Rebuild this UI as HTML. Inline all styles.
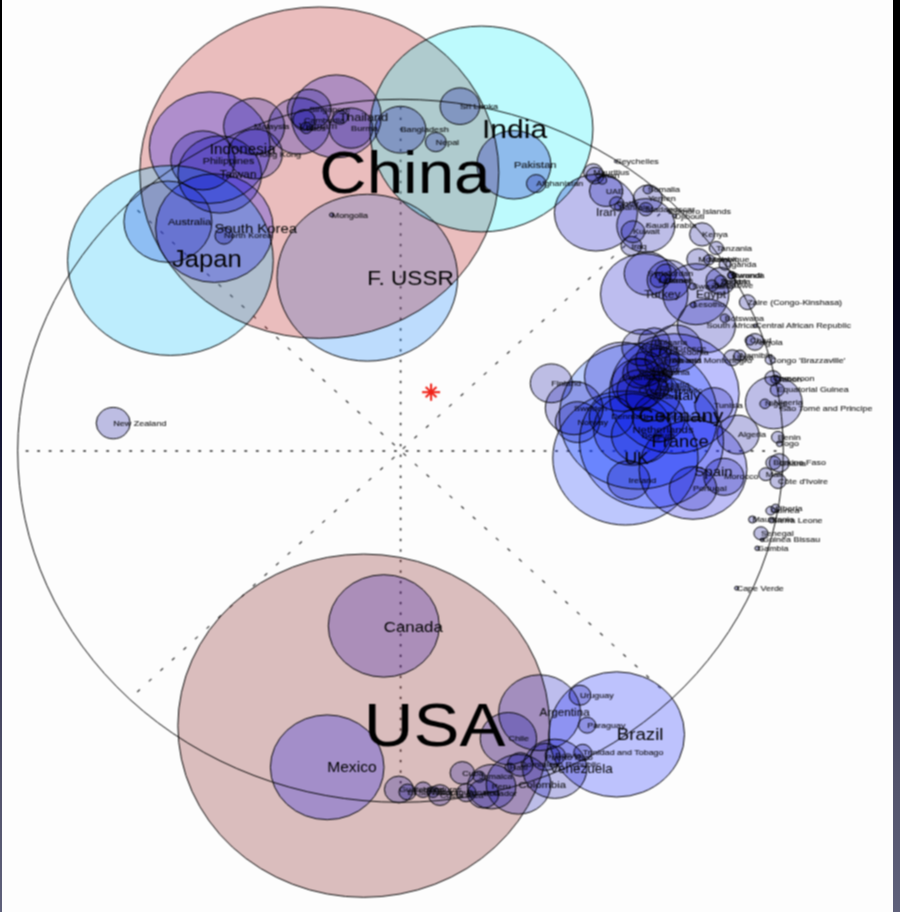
<!DOCTYPE html>
<html lang="en"><head><meta charset="utf-8"><title>World GDP bubble map</title>
<style>
html,body{margin:0;padding:0;background:#fff;}
body{width:900px;height:912px;overflow:hidden;position:relative;font-family:"Liberation Sans",sans-serif;}
#bg{position:absolute;left:0;top:0;width:900px;height:912px;background:linear-gradient(to bottom,#000 0%,#000 16%,#05051b 33%,#141634 48.5%,#343452 66%,#53546c 86%,#5f617b 100%);}
#paper{position:absolute;left:2px;top:0;width:891px;height:912px;background:#fdfdfd;overflow:hidden;}
svg{position:absolute;left:-2px;top:0;}
.f{fill-opacity:.25;stroke:none}
.c{stroke:#000;stroke-width:1.0;fill:none;stroke-opacity:.95}
.d{stroke:#333;stroke-width:1.6;stroke-linecap:butt}
.e{stroke:#3a3a3a;stroke-width:1.25;stroke-linecap:butt}
text{font-family:"Liberation Sans",sans-serif;fill:#000}
.s{stroke:#000;stroke-width:.15;stroke-opacity:.7;fill-opacity:.9}
</style></head><body>
<div id="bg"></div><div id="paper">
<svg width="900" height="912" viewBox="0 0 900 912">
<defs><filter id="soft" x="-2%" y="-2%" width="104%" height="104%" color-interpolation-filters="sRGB"><feConvolveMatrix order="3" kernelMatrix="1 2 1 2 4 2 1 2 1" divisor="16" edgeMode="duplicate" preserveAlpha="false"/></filter></defs>
<g filter="url(#soft)">
<g class="d"><line x1="25.7" y1="451.0" x2="28.5" y2="451.0"/><line x1="37.2" y1="451.0" x2="40.0" y2="451.0"/><line x1="48.7" y1="451.0" x2="51.5" y2="451.0"/><line x1="60.2" y1="451.0" x2="63.0" y2="451.0"/><line x1="71.7" y1="451.0" x2="74.5" y2="451.0"/><line x1="83.2" y1="451.0" x2="86.0" y2="451.0"/><line x1="94.7" y1="451.0" x2="97.5" y2="451.0"/><line x1="106.3" y1="451.0" x2="109.1" y2="451.0"/><line x1="117.8" y1="451.0" x2="120.6" y2="451.0"/><line x1="129.3" y1="451.0" x2="132.1" y2="451.0"/><line x1="140.8" y1="451.0" x2="143.6" y2="451.0"/><line x1="152.3" y1="451.0" x2="155.1" y2="451.0"/><line x1="163.8" y1="451.0" x2="166.6" y2="451.0"/><line x1="175.3" y1="451.0" x2="178.1" y2="451.0"/><line x1="186.8" y1="451.0" x2="189.6" y2="451.0"/><line x1="198.3" y1="451.0" x2="201.1" y2="451.0"/><line x1="209.8" y1="451.0" x2="212.6" y2="451.0"/><line x1="221.3" y1="451.0" x2="224.1" y2="451.0"/><line x1="232.8" y1="451.0" x2="235.6" y2="451.0"/><line x1="244.4" y1="451.0" x2="247.2" y2="451.0"/><line x1="255.9" y1="451.0" x2="258.7" y2="451.0"/><line x1="267.4" y1="451.0" x2="270.2" y2="451.0"/><line x1="278.9" y1="451.0" x2="281.7" y2="451.0"/><line x1="290.4" y1="451.0" x2="293.2" y2="451.0"/><line x1="301.9" y1="451.0" x2="304.7" y2="451.0"/><line x1="313.4" y1="451.0" x2="316.2" y2="451.0"/><line x1="324.9" y1="451.0" x2="327.7" y2="451.0"/><line x1="336.4" y1="451.0" x2="339.2" y2="451.0"/><line x1="347.9" y1="451.0" x2="350.7" y2="451.0"/><line x1="359.4" y1="451.0" x2="362.2" y2="451.0"/><line x1="370.9" y1="451.0" x2="373.7" y2="451.0"/><line x1="382.4" y1="451.0" x2="385.2" y2="451.0"/><line x1="394.0" y1="451.0" x2="396.8" y2="451.0"/><line x1="405.5" y1="451.0" x2="408.3" y2="451.0"/><line x1="417.0" y1="451.0" x2="419.8" y2="451.0"/><line x1="428.5" y1="451.0" x2="431.3" y2="451.0"/><line x1="440.0" y1="451.0" x2="442.8" y2="451.0"/><line x1="451.5" y1="451.0" x2="454.3" y2="451.0"/><line x1="463.0" y1="451.0" x2="465.8" y2="451.0"/><line x1="474.5" y1="451.0" x2="477.3" y2="451.0"/><line x1="486.0" y1="451.0" x2="488.8" y2="451.0"/><line x1="497.5" y1="451.0" x2="500.3" y2="451.0"/><line x1="509.0" y1="451.0" x2="511.8" y2="451.0"/><line x1="520.5" y1="451.0" x2="523.3" y2="451.0"/><line x1="532.1" y1="451.0" x2="534.9" y2="451.0"/><line x1="543.6" y1="451.0" x2="546.4" y2="451.0"/><line x1="555.1" y1="451.0" x2="557.9" y2="451.0"/><line x1="566.6" y1="451.0" x2="569.4" y2="451.0"/><line x1="578.1" y1="451.0" x2="580.9" y2="451.0"/><line x1="589.6" y1="451.0" x2="592.4" y2="451.0"/><line x1="601.1" y1="451.0" x2="603.9" y2="451.0"/><line x1="612.6" y1="451.0" x2="615.4" y2="451.0"/><line x1="624.1" y1="451.0" x2="626.9" y2="451.0"/><line x1="635.6" y1="451.0" x2="638.4" y2="451.0"/><line x1="647.1" y1="451.0" x2="649.9" y2="451.0"/><line x1="658.6" y1="451.0" x2="661.4" y2="451.0"/><line x1="670.1" y1="451.0" x2="672.9" y2="451.0"/><line x1="681.7" y1="451.0" x2="684.5" y2="451.0"/><line x1="693.2" y1="451.0" x2="696.0" y2="451.0"/><line x1="704.7" y1="451.0" x2="707.5" y2="451.0"/><line x1="716.2" y1="451.0" x2="719.0" y2="451.0"/><line x1="727.7" y1="451.0" x2="730.5" y2="451.0"/><line x1="739.2" y1="451.0" x2="742.0" y2="451.0"/><line x1="750.7" y1="451.0" x2="753.5" y2="451.0"/><line x1="762.2" y1="451.0" x2="765.0" y2="451.0"/><line x1="773.7" y1="451.0" x2="776.5" y2="451.0"/><line x1="400.6" y1="107.0" x2="400.6" y2="109.4"/><line x1="400.6" y1="117.6" x2="400.6" y2="120.0"/><line x1="400.6" y1="128.1" x2="400.6" y2="130.5"/><line x1="400.6" y1="138.6" x2="400.6" y2="141.0"/><line x1="400.6" y1="149.2" x2="400.6" y2="151.6"/><line x1="400.6" y1="159.7" x2="400.6" y2="162.1"/><line x1="400.6" y1="170.2" x2="400.6" y2="172.6"/><line x1="400.6" y1="180.8" x2="400.6" y2="183.2"/><line x1="400.6" y1="191.3" x2="400.6" y2="193.7"/><line x1="400.6" y1="201.8" x2="400.6" y2="204.2"/><line x1="400.6" y1="212.3" x2="400.6" y2="214.7"/><line x1="400.6" y1="222.9" x2="400.6" y2="225.3"/><line x1="400.6" y1="233.4" x2="400.6" y2="235.8"/><line x1="400.6" y1="243.9" x2="400.6" y2="246.3"/><line x1="400.6" y1="254.5" x2="400.6" y2="256.9"/><line x1="400.6" y1="265.0" x2="400.6" y2="267.4"/><line x1="400.6" y1="275.5" x2="400.6" y2="277.9"/><line x1="400.6" y1="286.1" x2="400.6" y2="288.4"/><line x1="400.6" y1="296.6" x2="400.6" y2="299.0"/><line x1="400.6" y1="307.1" x2="400.6" y2="309.5"/><line x1="400.6" y1="317.6" x2="400.6" y2="320.0"/><line x1="400.6" y1="328.2" x2="400.6" y2="330.6"/><line x1="400.6" y1="338.7" x2="400.6" y2="341.1"/><line x1="400.6" y1="349.2" x2="400.6" y2="351.6"/><line x1="400.6" y1="359.8" x2="400.6" y2="362.2"/><line x1="400.6" y1="370.3" x2="400.6" y2="372.7"/><line x1="400.6" y1="380.8" x2="400.6" y2="383.2"/><line x1="400.6" y1="391.3" x2="400.6" y2="393.7"/><line x1="400.6" y1="401.9" x2="400.6" y2="404.3"/><line x1="400.6" y1="412.4" x2="400.6" y2="414.8"/><line x1="400.6" y1="422.9" x2="400.6" y2="425.3"/><line x1="400.6" y1="433.5" x2="400.6" y2="435.9"/><line x1="400.6" y1="444.0" x2="400.6" y2="446.4"/><line x1="400.6" y1="454.5" x2="400.6" y2="456.9"/><line x1="400.6" y1="465.1" x2="400.6" y2="467.5"/><line x1="400.6" y1="475.6" x2="400.6" y2="478.0"/><line x1="400.6" y1="486.1" x2="400.6" y2="488.5"/><line x1="400.6" y1="496.6" x2="400.6" y2="499.0"/><line x1="400.6" y1="507.2" x2="400.6" y2="509.6"/><line x1="400.6" y1="517.7" x2="400.6" y2="520.1"/><line x1="400.6" y1="528.2" x2="400.6" y2="530.6"/><line x1="400.6" y1="538.8" x2="400.6" y2="541.2"/><line x1="400.6" y1="549.3" x2="400.6" y2="551.7"/><line x1="400.6" y1="559.8" x2="400.6" y2="562.2"/><line x1="400.6" y1="570.4" x2="400.6" y2="572.8"/><line x1="400.6" y1="580.9" x2="400.6" y2="583.3"/><line x1="400.6" y1="591.4" x2="400.6" y2="593.8"/><line x1="400.6" y1="601.9" x2="400.6" y2="604.3"/><line x1="400.6" y1="612.5" x2="400.6" y2="614.9"/><line x1="400.6" y1="623.0" x2="400.6" y2="625.4"/><line x1="400.6" y1="633.5" x2="400.6" y2="635.9"/><line x1="400.6" y1="644.1" x2="400.6" y2="646.5"/><line x1="400.6" y1="654.6" x2="400.6" y2="657.0"/><line x1="400.6" y1="665.1" x2="400.6" y2="667.5"/><line x1="400.6" y1="675.7" x2="400.6" y2="678.1"/><line x1="400.6" y1="686.2" x2="400.6" y2="688.6"/><line x1="400.6" y1="696.7" x2="400.6" y2="699.1"/><line x1="400.6" y1="707.2" x2="400.6" y2="709.6"/><line x1="400.6" y1="717.8" x2="400.6" y2="720.2"/><line x1="400.6" y1="728.3" x2="400.6" y2="730.7"/><line x1="400.6" y1="738.8" x2="400.6" y2="741.2"/><line x1="400.6" y1="749.4" x2="400.6" y2="751.8"/><line x1="400.6" y1="759.9" x2="400.6" y2="762.3"/><line x1="400.6" y1="770.4" x2="400.6" y2="772.8"/><line x1="400.6" y1="781.0" x2="400.6" y2="783.4"/></g>
<g class="e"><line x1="402.8" y1="448.9" x2="405.6" y2="446.3"/><line x1="394.8" y1="445.3" x2="392.0" y2="442.7"/><line x1="403.3" y1="453.3" x2="406.1" y2="455.9"/><line x1="394.5" y1="456.9" x2="391.7" y2="459.5"/><line x1="414.4" y1="438.3" x2="417.1" y2="435.8"/><line x1="383.2" y1="434.7" x2="380.5" y2="432.2"/><line x1="414.9" y1="463.9" x2="417.6" y2="466.4"/><line x1="382.9" y1="467.5" x2="380.2" y2="470.0"/><line x1="426.0" y1="427.7" x2="428.7" y2="425.2"/><line x1="371.6" y1="424.1" x2="368.9" y2="421.6"/><line x1="426.5" y1="474.5" x2="429.2" y2="477.0"/><line x1="371.3" y1="478.1" x2="368.6" y2="480.6"/><line x1="437.5" y1="417.1" x2="440.3" y2="414.6"/><line x1="360.1" y1="413.5" x2="357.3" y2="411.0"/><line x1="438.0" y1="485.1" x2="440.8" y2="487.6"/><line x1="359.8" y1="488.7" x2="357.0" y2="491.2"/><line x1="449.1" y1="406.6" x2="451.8" y2="404.1"/><line x1="348.5" y1="403.0" x2="345.8" y2="400.5"/><line x1="449.6" y1="495.6" x2="452.3" y2="498.1"/><line x1="348.2" y1="499.2" x2="345.5" y2="501.7"/><line x1="460.7" y1="396.0" x2="463.4" y2="393.5"/><line x1="336.9" y1="392.4" x2="334.2" y2="389.9"/><line x1="461.2" y1="506.2" x2="463.9" y2="508.7"/><line x1="336.6" y1="509.8" x2="333.9" y2="512.3"/><line x1="472.3" y1="385.4" x2="475.0" y2="382.9"/><line x1="325.3" y1="381.8" x2="322.6" y2="379.3"/><line x1="472.8" y1="516.8" x2="475.5" y2="519.3"/><line x1="325.0" y1="520.4" x2="322.3" y2="522.9"/><line x1="483.8" y1="374.9" x2="486.6" y2="372.4"/><line x1="313.8" y1="371.3" x2="311.0" y2="368.8"/><line x1="484.3" y1="527.3" x2="487.1" y2="529.8"/><line x1="313.5" y1="530.9" x2="310.7" y2="533.4"/><line x1="495.4" y1="364.3" x2="498.1" y2="361.8"/><line x1="302.2" y1="360.7" x2="299.5" y2="358.2"/><line x1="495.9" y1="537.9" x2="498.6" y2="540.4"/><line x1="301.9" y1="541.5" x2="299.2" y2="544.0"/><line x1="507.0" y1="353.7" x2="509.7" y2="351.2"/><line x1="290.6" y1="350.1" x2="287.9" y2="347.6"/><line x1="507.5" y1="548.5" x2="510.2" y2="551.0"/><line x1="290.3" y1="552.1" x2="287.6" y2="554.6"/><line x1="518.5" y1="343.2" x2="521.3" y2="340.6"/><line x1="279.1" y1="339.6" x2="276.3" y2="337.0"/><line x1="519.0" y1="559.0" x2="521.8" y2="561.6"/><line x1="278.8" y1="562.6" x2="276.0" y2="565.2"/><line x1="530.1" y1="332.6" x2="532.8" y2="330.1"/><line x1="267.5" y1="329.0" x2="264.8" y2="326.5"/><line x1="530.6" y1="569.6" x2="533.3" y2="572.1"/><line x1="267.2" y1="573.2" x2="264.5" y2="575.7"/><line x1="541.7" y1="322.0" x2="544.4" y2="319.5"/><line x1="255.9" y1="318.4" x2="253.2" y2="315.9"/><line x1="542.2" y1="580.2" x2="544.9" y2="582.7"/><line x1="255.6" y1="583.8" x2="252.9" y2="586.3"/><line x1="553.2" y1="311.4" x2="556.0" y2="308.9"/><line x1="244.4" y1="307.8" x2="241.6" y2="305.3"/><line x1="553.7" y1="590.8" x2="556.5" y2="593.3"/><line x1="244.1" y1="594.4" x2="241.3" y2="596.9"/><line x1="564.8" y1="300.9" x2="567.5" y2="298.4"/><line x1="232.8" y1="297.3" x2="230.1" y2="294.8"/><line x1="565.3" y1="601.3" x2="568.0" y2="603.8"/><line x1="232.5" y1="604.9" x2="229.8" y2="607.4"/><line x1="576.4" y1="290.3" x2="579.1" y2="287.8"/><line x1="221.2" y1="286.7" x2="218.5" y2="284.2"/><line x1="576.9" y1="611.9" x2="579.6" y2="614.4"/><line x1="220.9" y1="615.5" x2="218.2" y2="618.0"/><line x1="588.0" y1="279.7" x2="590.7" y2="277.2"/><line x1="209.6" y1="276.1" x2="206.9" y2="273.6"/><line x1="588.5" y1="622.5" x2="591.2" y2="625.0"/><line x1="209.3" y1="626.1" x2="206.6" y2="628.6"/><line x1="599.5" y1="269.2" x2="602.3" y2="266.7"/><line x1="198.1" y1="265.6" x2="195.3" y2="263.1"/><line x1="600.0" y1="633.0" x2="602.8" y2="635.5"/><line x1="197.8" y1="636.6" x2="195.0" y2="639.1"/><line x1="611.1" y1="258.6" x2="613.8" y2="256.1"/><line x1="186.5" y1="255.0" x2="183.8" y2="252.5"/><line x1="611.6" y1="643.6" x2="614.3" y2="646.1"/><line x1="186.2" y1="647.2" x2="183.5" y2="649.7"/><line x1="622.7" y1="248.0" x2="625.4" y2="245.5"/><line x1="174.9" y1="244.4" x2="172.2" y2="241.9"/><line x1="623.2" y1="654.2" x2="625.9" y2="656.7"/><line x1="174.6" y1="657.8" x2="171.9" y2="660.3"/><line x1="634.2" y1="237.5" x2="637.0" y2="234.9"/><line x1="163.4" y1="233.9" x2="160.6" y2="231.3"/><line x1="634.7" y1="664.7" x2="637.5" y2="667.3"/><line x1="163.1" y1="668.3" x2="160.3" y2="670.9"/><line x1="645.8" y1="226.9" x2="648.5" y2="224.4"/><line x1="151.8" y1="223.3" x2="149.1" y2="220.8"/><line x1="646.3" y1="675.3" x2="649.0" y2="677.8"/><line x1="151.5" y1="678.9" x2="148.8" y2="681.4"/><line x1="657.4" y1="216.3" x2="660.1" y2="213.8"/><line x1="140.2" y1="212.7" x2="137.5" y2="210.2"/><line x1="657.9" y1="685.9" x2="660.6" y2="688.4"/><line x1="139.9" y1="689.5" x2="137.2" y2="692.0"/></g>
<g class="f">
<ellipse cx="653.0" cy="395.9" rx="27.0" ry="24.9" fill="rgb(0,0,164)"/>
<ellipse cx="641.7" cy="435.3" rx="30.2" ry="27.9" fill="rgb(0,0,169)"/>
<ellipse cx="611.3" cy="416.7" rx="22.0" ry="20.3" fill="rgb(0,0,157)"/>
<ellipse cx="551.3" cy="383.3" rx="21.0" ry="19.4" fill="rgb(0,0,155)"/>
<ellipse cx="651.5" cy="441.6" rx="72.0" ry="66.5" fill="rgb(0,36,255)"/>
<ellipse cx="638.4" cy="416.2" rx="79.0" ry="72.9" fill="rgb(0,66,255)"/>
<ellipse cx="674.2" cy="393.6" rx="64.9" ry="59.9" fill="rgb(0,8,255)"/>
<ellipse cx="632.4" cy="429.4" rx="38.8" ry="35.8" fill="rgb(0,0,186)"/>
<ellipse cx="577.5" cy="422.1" rx="22.1" ry="20.4" fill="rgb(0,0,157)"/>
<ellipse cx="574.1" cy="408.1" rx="28.8" ry="26.6" fill="rgb(0,0,167)"/>
<ellipse cx="659.0" cy="417.4" rx="26.3" ry="24.3" fill="rgb(0,0,163)"/>
<ellipse cx="625.4" cy="458.0" rx="72.6" ry="67.0" fill="rgb(0,39,255)"/>
<ellipse cx="628.6" cy="480.2" rx="21.1" ry="19.5" fill="rgb(0,0,156)"/>
<ellipse cx="676.3" cy="348.5" rx="25.4" ry="23.4" fill="rgb(0,0,161)"/>
<ellipse cx="693.0" cy="488.5" rx="23.6" ry="21.8" fill="rgb(0,0,159)"/>
<ellipse cx="693.0" cy="469.6" rx="53.9" ry="49.7" fill="rgb(0,0,226)"/>
<ellipse cx="167.9" cy="221.7" rx="44.0" ry="40.6" fill="rgb(0,0,198)"/>
<ellipse cx="113.2" cy="423.1" rx="17.0" ry="15.7" fill="rgb(0,0,151)"/>
<ellipse cx="383.8" cy="625.9" rx="55.5" ry="51.2" fill="rgb(0,0,231)"/>
<ellipse cx="363.7" cy="725.7" rx="185.8" ry="171.6" fill="rgb(117,0,0)"/>
<ellipse cx="672.0" cy="360.1" rx="7.3" ry="6.7" fill="rgb(0,0,144)"/>
<ellipse cx="654.2" cy="342.2" rx="15.6" ry="14.4" fill="rgb(0,0,150)"/>
<ellipse cx="639.2" cy="383.8" rx="27.4" ry="25.3" fill="rgb(0,0,164)"/>
<ellipse cx="645.8" cy="368.8" rx="18.6" ry="17.2" fill="rgb(0,0,153)"/>
<ellipse cx="622.0" cy="376.8" rx="37.5" ry="34.6" fill="rgb(0,0,183)"/>
<ellipse cx="641.5" cy="347.6" rx="19.6" ry="18.1" fill="rgb(0,0,154)"/>
<ellipse cx="657.6" cy="360.2" rx="21.8" ry="20.1" fill="rgb(0,0,156)"/>
<ellipse cx="662.4" cy="372.7" rx="9.7" ry="9.0" fill="rgb(0,0,146)"/>
<ellipse cx="660.6" cy="384.6" rx="11.9" ry="11.0" fill="rgb(0,0,147)"/>
<ellipse cx="665.0" cy="352.7" rx="5.6" ry="5.2" fill="rgb(0,0,144)"/>
<ellipse cx="657.0" cy="388.5" rx="11.4" ry="10.6" fill="rgb(0,0,147)"/>
<ellipse cx="657.6" cy="360.2" rx="12.8" ry="11.8" fill="rgb(0,0,147)"/>
<ellipse cx="638.8" cy="390.1" rx="21.8" ry="20.2" fill="rgb(0,0,156)"/>
<ellipse cx="638.8" cy="373.3" rx="16.0" ry="14.7" fill="rgb(0,0,150)"/>
<ellipse cx="367.3" cy="277.7" rx="90.3" ry="83.4" fill="rgb(0,122,255)"/>
<ellipse cx="539.6" cy="712.7" rx="41.0" ry="37.9" fill="rgb(0,0,191)"/>
<ellipse cx="616.7" cy="734.4" rx="67.8" ry="62.6" fill="rgb(0,19,255)"/>
<ellipse cx="508.4" cy="738.6" rx="28.2" ry="26.1" fill="rgb(0,0,166)"/>
<ellipse cx="518.5" cy="784.3" rx="32.3" ry="29.8" fill="rgb(0,0,173)"/>
<ellipse cx="327.2" cy="767.3" rx="56.8" ry="52.4" fill="rgb(0,0,235)"/>
<ellipse cx="491.7" cy="786.7" rx="24.1" ry="22.2" fill="rgb(0,0,159)"/>
<ellipse cx="580.0" cy="695.2" rx="10.8" ry="10.0" fill="rgb(0,0,146)"/>
<ellipse cx="554.7" cy="768.8" rx="32.1" ry="29.6" fill="rgb(0,0,172)"/>
<ellipse cx="555.2" cy="755.4" rx="10.1" ry="9.3" fill="rgb(0,0,146)"/>
<ellipse cx="439.9" cy="795.1" rx="11.3" ry="10.4" fill="rgb(0,0,146)"/>
<ellipse cx="462.3" cy="772.9" rx="12.2" ry="11.3" fill="rgb(0,0,147)"/>
<ellipse cx="520.3" cy="764.4" rx="12.8" ry="11.8" fill="rgb(0,0,147)"/>
<ellipse cx="483.3" cy="793.8" rx="15.5" ry="14.3" fill="rgb(0,0,150)"/>
<ellipse cx="407.5" cy="792.0" rx="8.5" ry="7.9" fill="rgb(0,0,145)"/>
<ellipse cx="398.9" cy="789.5" rx="14.5" ry="13.4" fill="rgb(0,0,149)"/>
<ellipse cx="509.8" cy="767.6" rx="4.9" ry="4.5" fill="rgb(0,0,143)"/>
<ellipse cx="423.1" cy="789.7" rx="8.3" ry="7.7" fill="rgb(0,0,145)"/>
<ellipse cx="479.2" cy="776.7" rx="6.0" ry="5.6" fill="rgb(0,0,144)"/>
<ellipse cx="433.0" cy="792.0" rx="5.9" ry="5.4" fill="rgb(0,0,144)"/>
<ellipse cx="466.2" cy="792.7" rx="9.7" ry="9.0" fill="rgb(0,0,146)"/>
<ellipse cx="587.2" cy="725.2" rx="8.6" ry="7.9" fill="rgb(0,0,145)"/>
<ellipse cx="545.5" cy="756.9" rx="14.8" ry="13.6" fill="rgb(0,0,149)"/>
<ellipse cx="582.7" cy="752.6" rx="8.9" ry="8.3" fill="rgb(0,0,145)"/>
<ellipse cx="319.3" cy="172.7" rx="179.5" ry="165.7" fill="rgb(181,0,0)"/>
<ellipse cx="481.4" cy="129.0" rx="111.5" ry="102.9" fill="rgb(0,244,255)"/>
<ellipse cx="209.8" cy="147.6" rx="60.5" ry="55.8" fill="rgb(0,0,248)"/>
<ellipse cx="170.4" cy="260.5" rx="102.8" ry="94.9" fill="rgb(0,191,255)"/>
<ellipse cx="202.8" cy="160.4" rx="32.0" ry="29.5" fill="rgb(0,0,172)"/>
<ellipse cx="214.4" cy="228.1" rx="58.8" ry="54.3" fill="rgb(0,0,242)"/>
<ellipse cx="336.3" cy="116.4" rx="45.0" ry="41.5" fill="rgb(0,0,201)"/>
<ellipse cx="219.7" cy="174.5" rx="41.8" ry="38.6" fill="rgb(0,0,193)"/>
<ellipse cx="400.5" cy="129.7" rx="25.4" ry="23.4" fill="rgb(0,0,161)"/>
<ellipse cx="351.1" cy="128.1" rx="21.8" ry="20.1" fill="rgb(0,0,156)"/>
<ellipse cx="255.4" cy="154.0" rx="27.0" ry="24.9" fill="rgb(0,0,164)"/>
<ellipse cx="254.1" cy="126.4" rx="30.5" ry="28.2" fill="rgb(0,0,169)"/>
<ellipse cx="435.8" cy="142.1" rx="10.4" ry="9.6" fill="rgb(0,0,146)"/>
<ellipse cx="513.9" cy="164.8" rx="37.0" ry="34.2" fill="rgb(0,0,182)"/>
<ellipse cx="309.2" cy="109.5" rx="21.8" ry="20.2" fill="rgb(0,0,156)"/>
<ellipse cx="459.9" cy="106.2" rx="19.8" ry="18.3" fill="rgb(0,0,154)"/>
<ellipse cx="536.2" cy="183.6" rx="9.7" ry="9.0" fill="rgb(0,0,146)"/>
<ellipse cx="304.0" cy="120.0" rx="11.1" ry="10.3" fill="rgb(0,0,146)"/>
<ellipse cx="306.3" cy="127.9" rx="6.0" ry="5.6" fill="rgb(0,0,144)"/>
<ellipse cx="331.7" cy="214.9" rx="2.2" ry="2.0" fill="rgb(0,0,143)"/>
<ellipse cx="224.0" cy="235.8" rx="9.0" ry="8.3" fill="rgb(0,0,145)"/>
<ellipse cx="299.1" cy="126.0" rx="30.6" ry="28.2" fill="rgb(0,0,170)"/>
<ellipse cx="340.2" cy="117.3" rx="7.5" ry="6.9" fill="rgb(0,0,144)"/>
<ellipse cx="619.1" cy="206.8" rx="4.5" ry="4.2" fill="rgb(0,0,143)"/>
<ellipse cx="595.9" cy="212.7" rx="41.5" ry="38.3" fill="rgb(0,0,192)"/>
<ellipse cx="631.4" cy="246.0" rx="10.4" ry="9.6" fill="rgb(0,0,146)"/>
<ellipse cx="668.7" cy="280.0" rx="21.5" ry="19.9" fill="rgb(0,0,156)"/>
<ellipse cx="666.0" cy="273.7" rx="10.4" ry="9.6" fill="rgb(0,0,146)"/>
<ellipse cx="633.0" cy="231.7" rx="11.8" ry="10.9" fill="rgb(0,0,147)"/>
<ellipse cx="658.3" cy="279.9" rx="8.1" ry="7.5" fill="rgb(0,0,145)"/>
<ellipse cx="595.1" cy="175.6" rx="8.9" ry="8.3" fill="rgb(0,0,145)"/>
<ellipse cx="616.8" cy="203.4" rx="7.1" ry="6.6" fill="rgb(0,0,144)"/>
<ellipse cx="645.8" cy="225.5" rx="29.0" ry="26.8" fill="rgb(0,0,167)"/>
<ellipse cx="647.6" cy="273.5" rx="23.4" ry="21.6" fill="rgb(0,0,158)"/>
<ellipse cx="644.2" cy="294.1" rx="43.7" ry="40.4" fill="rgb(0,0,198)"/>
<ellipse cx="606.1" cy="191.0" rx="16.7" ry="15.4" fill="rgb(0,0,151)"/>
<ellipse cx="647.9" cy="198.5" rx="14.6" ry="13.5" fill="rgb(0,0,149)"/>
<ellipse cx="665.6" cy="278.8" rx="5.4" ry="5.0" fill="rgb(0,0,144)"/>
<ellipse cx="738.0" cy="434.6" rx="21.0" ry="19.4" fill="rgb(0,0,155)"/>
<ellipse cx="754.9" cy="341.9" rx="8.9" ry="8.3" fill="rgb(0,0,145)"/>
<ellipse cx="777.8" cy="437.2" rx="6.3" ry="5.8" fill="rgb(0,0,144)"/>
<ellipse cx="724.7" cy="318.2" rx="4.5" ry="4.2" fill="rgb(0,0,143)"/>
<ellipse cx="773.3" cy="462.8" rx="7.4" ry="6.8" fill="rgb(0,0,144)"/>
<ellipse cx="731.4" cy="275.4" rx="3.8" ry="3.5" fill="rgb(0,0,143)"/>
<ellipse cx="772.9" cy="378.1" rx="8.0" ry="7.4" fill="rgb(0,0,145)"/>
<ellipse cx="736.7" cy="588.2" rx="2.1" ry="1.9" fill="rgb(0,0,143)"/>
<ellipse cx="755.2" cy="325.8" rx="2.0" ry="1.8" fill="rgb(0,0,143)"/>
<ellipse cx="750.1" cy="340.3" rx="5.0" ry="4.7" fill="rgb(0,0,144)"/>
<ellipse cx="668.5" cy="211.0" rx="1.2" ry="1.1" fill="rgb(0,0,143)"/>
<ellipse cx="770.2" cy="359.8" rx="5.0" ry="4.6" fill="rgb(0,0,144)"/>
<ellipse cx="778.1" cy="481.1" rx="8.0" ry="7.4" fill="rgb(0,0,145)"/>
<ellipse cx="674.8" cy="215.9" rx="1.9" ry="1.8" fill="rgb(0,0,143)"/>
<ellipse cx="695.9" cy="294.2" rx="33.0" ry="30.5" fill="rgb(0,0,174)"/>
<ellipse cx="777.3" cy="389.8" rx="7.0" ry="6.5" fill="rgb(0,0,144)"/>
<ellipse cx="775.2" cy="379.2" rx="4.3" ry="3.9" fill="rgb(0,0,143)"/>
<ellipse cx="757.3" cy="548.3" rx="2.4" ry="2.2" fill="rgb(0,0,143)"/>
<ellipse cx="779.3" cy="462.9" rx="10.0" ry="9.2" fill="rgb(0,0,146)"/>
<ellipse cx="770.6" cy="510.7" rx="4.7" ry="4.3" fill="rgb(0,0,143)"/>
<ellipse cx="762.2" cy="539.8" rx="1.9" ry="1.8" fill="rgb(0,0,143)"/>
<ellipse cx="702.1" cy="234.4" rx="12.5" ry="11.6" fill="rgb(0,0,147)"/>
<ellipse cx="693.3" cy="304.8" rx="3.0" ry="2.8" fill="rgb(0,0,143)"/>
<ellipse cx="775.6" cy="508.4" rx="4.5" ry="4.2" fill="rgb(0,0,143)"/>
<ellipse cx="732.3" cy="357.7" rx="8.5" ry="7.9" fill="rgb(0,0,145)"/>
<ellipse cx="645.8" cy="209.2" rx="7.1" ry="6.6" fill="rgb(0,0,144)"/>
<ellipse cx="709.1" cy="259.7" rx="5.4" ry="5.0" fill="rgb(0,0,144)"/>
<ellipse cx="765.7" cy="474.2" rx="6.9" ry="6.4" fill="rgb(0,0,144)"/>
<ellipse cx="752.4" cy="519.5" rx="3.8" ry="3.5" fill="rgb(0,0,143)"/>
<ellipse cx="593.2" cy="172.6" rx="9.5" ry="8.8" fill="rgb(0,0,145)"/>
<ellipse cx="723.9" cy="476.8" rx="20.0" ry="18.5" fill="rgb(0,0,154)"/>
<ellipse cx="698.3" cy="259.3" rx="11.5" ry="10.6" fill="rgb(0,0,147)"/>
<ellipse cx="739.9" cy="355.5" rx="5.9" ry="5.4" fill="rgb(0,0,144)"/>
<ellipse cx="764.9" cy="403.8" rx="5.0" ry="4.7" fill="rgb(0,0,144)"/>
<ellipse cx="773.8" cy="402.6" rx="28.4" ry="26.2" fill="rgb(0,0,166)"/>
<ellipse cx="602.3" cy="180.2" rx="4.3" ry="3.9" fill="rgb(0,0,143)"/>
<ellipse cx="731.8" cy="275.2" rx="4.0" ry="3.7" fill="rgb(0,0,143)"/>
<ellipse cx="780.4" cy="408.0" rx="0.9" ry="0.8" fill="rgb(0,0,143)"/>
<ellipse cx="760.9" cy="533.3" rx="7.0" ry="6.5" fill="rgb(0,0,144)"/>
<ellipse cx="615.7" cy="161.5" rx="1.3" ry="1.2" fill="rgb(0,0,143)"/>
<ellipse cx="771.5" cy="520.1" rx="3.0" ry="2.8" fill="rgb(0,0,143)"/>
<ellipse cx="647.8" cy="189.5" rx="4.7" ry="4.3" fill="rgb(0,0,143)"/>
<ellipse cx="706.4" cy="325.8" rx="29.0" ry="26.8" fill="rgb(0,0,167)"/>
<ellipse cx="720.7" cy="281.0" rx="14.8" ry="13.6" fill="rgb(0,0,149)"/>
<ellipse cx="692.6" cy="286.4" rx="3.6" ry="3.3" fill="rgb(0,0,143)"/>
<ellipse cx="716.3" cy="248.0" rx="7.0" ry="6.5" fill="rgb(0,0,144)"/>
<ellipse cx="779.5" cy="443.7" rx="3.0" ry="2.8" fill="rgb(0,0,143)"/>
<ellipse cx="713.9" cy="405.2" rx="19.0" ry="17.5" fill="rgb(0,0,153)"/>
<ellipse cx="725.1" cy="264.6" rx="6.0" ry="5.5" fill="rgb(0,0,144)"/>
<ellipse cx="747.4" cy="302.2" rx="8.0" ry="7.4" fill="rgb(0,0,145)"/>
<ellipse cx="720.7" cy="281.0" rx="6.0" ry="5.6" fill="rgb(0,0,144)"/>
<ellipse cx="712.0" cy="285.6" rx="6.0" ry="5.6" fill="rgb(0,0,144)"/>
</g>
<g class="c">
<ellipse cx="400.5" cy="450.8" rx="382.8" ry="351.5"/>
<ellipse cx="653.0" cy="395.9" rx="27.0" ry="24.9"/>
<ellipse cx="641.7" cy="435.3" rx="30.2" ry="27.9"/>
<ellipse cx="611.3" cy="416.7" rx="22.0" ry="20.3"/>
<ellipse cx="551.3" cy="383.3" rx="21.0" ry="19.4"/>
<ellipse cx="651.5" cy="441.6" rx="72.0" ry="66.5"/>
<ellipse cx="638.4" cy="416.2" rx="79.0" ry="72.9"/>
<ellipse cx="674.2" cy="393.6" rx="64.9" ry="59.9"/>
<ellipse cx="632.4" cy="429.4" rx="38.8" ry="35.8"/>
<ellipse cx="577.5" cy="422.1" rx="22.1" ry="20.4"/>
<ellipse cx="574.1" cy="408.1" rx="28.8" ry="26.6"/>
<ellipse cx="659.0" cy="417.4" rx="26.3" ry="24.3"/>
<ellipse cx="625.4" cy="458.0" rx="72.6" ry="67.0"/>
<ellipse cx="628.6" cy="480.2" rx="21.1" ry="19.5"/>
<ellipse cx="676.3" cy="348.5" rx="25.4" ry="23.4"/>
<ellipse cx="693.0" cy="488.5" rx="23.6" ry="21.8"/>
<ellipse cx="693.0" cy="469.6" rx="53.9" ry="49.7"/>
<ellipse cx="167.9" cy="221.7" rx="44.0" ry="40.6"/>
<ellipse cx="113.2" cy="423.1" rx="17.0" ry="15.7"/>
<ellipse cx="383.8" cy="625.9" rx="55.5" ry="51.2"/>
<ellipse cx="363.7" cy="725.7" rx="185.8" ry="171.6"/>
<ellipse cx="672.0" cy="360.1" rx="7.3" ry="6.7"/>
<ellipse cx="654.2" cy="342.2" rx="15.6" ry="14.4"/>
<ellipse cx="639.2" cy="383.8" rx="27.4" ry="25.3"/>
<ellipse cx="645.8" cy="368.8" rx="18.6" ry="17.2"/>
<ellipse cx="622.0" cy="376.8" rx="37.5" ry="34.6"/>
<ellipse cx="641.5" cy="347.6" rx="19.6" ry="18.1"/>
<ellipse cx="657.6" cy="360.2" rx="21.8" ry="20.1"/>
<ellipse cx="662.4" cy="372.7" rx="9.7" ry="9.0"/>
<ellipse cx="660.6" cy="384.6" rx="11.9" ry="11.0"/>
<ellipse cx="665.0" cy="352.7" rx="5.6" ry="5.2"/>
<ellipse cx="657.0" cy="388.5" rx="11.4" ry="10.6"/>
<ellipse cx="657.6" cy="360.2" rx="12.8" ry="11.8"/>
<ellipse cx="638.8" cy="390.1" rx="21.8" ry="20.2"/>
<ellipse cx="638.8" cy="373.3" rx="16.0" ry="14.7"/>
<ellipse cx="367.3" cy="277.7" rx="90.3" ry="83.4"/>
<ellipse cx="539.6" cy="712.7" rx="41.0" ry="37.9"/>
<ellipse cx="616.7" cy="734.4" rx="67.8" ry="62.6"/>
<ellipse cx="508.4" cy="738.6" rx="28.2" ry="26.1"/>
<ellipse cx="518.5" cy="784.3" rx="32.3" ry="29.8"/>
<ellipse cx="327.2" cy="767.3" rx="56.8" ry="52.4"/>
<ellipse cx="491.7" cy="786.7" rx="24.1" ry="22.2"/>
<ellipse cx="580.0" cy="695.2" rx="10.8" ry="10.0"/>
<ellipse cx="554.7" cy="768.8" rx="32.1" ry="29.6"/>
<ellipse cx="555.2" cy="755.4" rx="10.1" ry="9.3"/>
<ellipse cx="439.9" cy="795.1" rx="11.3" ry="10.4"/>
<ellipse cx="462.3" cy="772.9" rx="12.2" ry="11.3"/>
<ellipse cx="520.3" cy="764.4" rx="12.8" ry="11.8"/>
<ellipse cx="483.3" cy="793.8" rx="15.5" ry="14.3"/>
<ellipse cx="407.5" cy="792.0" rx="8.5" ry="7.9"/>
<ellipse cx="398.9" cy="789.5" rx="14.5" ry="13.4"/>
<ellipse cx="509.8" cy="767.6" rx="4.9" ry="4.5"/>
<ellipse cx="423.1" cy="789.7" rx="8.3" ry="7.7"/>
<ellipse cx="479.2" cy="776.7" rx="6.0" ry="5.6"/>
<ellipse cx="433.0" cy="792.0" rx="5.9" ry="5.4"/>
<ellipse cx="466.2" cy="792.7" rx="9.7" ry="9.0"/>
<ellipse cx="587.2" cy="725.2" rx="8.6" ry="7.9"/>
<ellipse cx="545.5" cy="756.9" rx="14.8" ry="13.6"/>
<ellipse cx="582.7" cy="752.6" rx="8.9" ry="8.3"/>
<ellipse cx="319.3" cy="172.7" rx="179.5" ry="165.7"/>
<ellipse cx="481.4" cy="129.0" rx="111.5" ry="102.9"/>
<ellipse cx="209.8" cy="147.6" rx="60.5" ry="55.8"/>
<ellipse cx="170.4" cy="260.5" rx="102.8" ry="94.9"/>
<ellipse cx="202.8" cy="160.4" rx="32.0" ry="29.5"/>
<ellipse cx="214.4" cy="228.1" rx="58.8" ry="54.3"/>
<ellipse cx="336.3" cy="116.4" rx="45.0" ry="41.5"/>
<ellipse cx="219.7" cy="174.5" rx="41.8" ry="38.6"/>
<ellipse cx="400.5" cy="129.7" rx="25.4" ry="23.4"/>
<ellipse cx="351.1" cy="128.1" rx="21.8" ry="20.1"/>
<ellipse cx="255.4" cy="154.0" rx="27.0" ry="24.9"/>
<ellipse cx="254.1" cy="126.4" rx="30.5" ry="28.2"/>
<ellipse cx="435.8" cy="142.1" rx="10.4" ry="9.6"/>
<ellipse cx="513.9" cy="164.8" rx="37.0" ry="34.2"/>
<ellipse cx="309.2" cy="109.5" rx="21.8" ry="20.2"/>
<ellipse cx="459.9" cy="106.2" rx="19.8" ry="18.3"/>
<ellipse cx="536.2" cy="183.6" rx="9.7" ry="9.0"/>
<ellipse cx="304.0" cy="120.0" rx="11.1" ry="10.3"/>
<ellipse cx="306.3" cy="127.9" rx="6.0" ry="5.6"/>
<ellipse cx="331.7" cy="214.9" rx="2.2" ry="2.0"/>
<ellipse cx="224.0" cy="235.8" rx="9.0" ry="8.3"/>
<ellipse cx="299.1" cy="126.0" rx="30.6" ry="28.2"/>
<ellipse cx="340.2" cy="117.3" rx="7.5" ry="6.9"/>
<ellipse cx="619.1" cy="206.8" rx="4.5" ry="4.2"/>
<ellipse cx="595.9" cy="212.7" rx="41.5" ry="38.3"/>
<ellipse cx="631.4" cy="246.0" rx="10.4" ry="9.6"/>
<ellipse cx="668.7" cy="280.0" rx="21.5" ry="19.9"/>
<ellipse cx="666.0" cy="273.7" rx="10.4" ry="9.6"/>
<ellipse cx="633.0" cy="231.7" rx="11.8" ry="10.9"/>
<ellipse cx="658.3" cy="279.9" rx="8.1" ry="7.5"/>
<ellipse cx="595.1" cy="175.6" rx="8.9" ry="8.3"/>
<ellipse cx="616.8" cy="203.4" rx="7.1" ry="6.6"/>
<ellipse cx="645.8" cy="225.5" rx="29.0" ry="26.8"/>
<ellipse cx="647.6" cy="273.5" rx="23.4" ry="21.6"/>
<ellipse cx="644.2" cy="294.1" rx="43.7" ry="40.4"/>
<ellipse cx="606.1" cy="191.0" rx="16.7" ry="15.4"/>
<ellipse cx="647.9" cy="198.5" rx="14.6" ry="13.5"/>
<ellipse cx="665.6" cy="278.8" rx="5.4" ry="5.0"/>
<ellipse cx="738.0" cy="434.6" rx="21.0" ry="19.4"/>
<ellipse cx="754.9" cy="341.9" rx="8.9" ry="8.3"/>
<ellipse cx="777.8" cy="437.2" rx="6.3" ry="5.8"/>
<ellipse cx="724.7" cy="318.2" rx="4.5" ry="4.2"/>
<ellipse cx="773.3" cy="462.8" rx="7.4" ry="6.8"/>
<ellipse cx="731.4" cy="275.4" rx="3.8" ry="3.5"/>
<ellipse cx="772.9" cy="378.1" rx="8.0" ry="7.4"/>
<ellipse cx="736.7" cy="588.2" rx="2.1" ry="1.9"/>
<ellipse cx="755.2" cy="325.8" rx="2.0" ry="1.8"/>
<ellipse cx="750.1" cy="340.3" rx="5.0" ry="4.7"/>
<ellipse cx="668.5" cy="211.0" rx="1.2" ry="1.1"/>
<ellipse cx="770.2" cy="359.8" rx="5.0" ry="4.6"/>
<ellipse cx="778.1" cy="481.1" rx="8.0" ry="7.4"/>
<ellipse cx="674.8" cy="215.9" rx="1.9" ry="1.8"/>
<ellipse cx="695.9" cy="294.2" rx="33.0" ry="30.5"/>
<ellipse cx="777.3" cy="389.8" rx="7.0" ry="6.5"/>
<ellipse cx="775.2" cy="379.2" rx="4.3" ry="3.9"/>
<ellipse cx="757.3" cy="548.3" rx="2.4" ry="2.2"/>
<ellipse cx="779.3" cy="462.9" rx="10.0" ry="9.2"/>
<ellipse cx="770.6" cy="510.7" rx="4.7" ry="4.3"/>
<ellipse cx="762.2" cy="539.8" rx="1.9" ry="1.8"/>
<ellipse cx="702.1" cy="234.4" rx="12.5" ry="11.6"/>
<ellipse cx="693.3" cy="304.8" rx="3.0" ry="2.8"/>
<ellipse cx="775.6" cy="508.4" rx="4.5" ry="4.2"/>
<ellipse cx="732.3" cy="357.7" rx="8.5" ry="7.9"/>
<ellipse cx="645.8" cy="209.2" rx="7.1" ry="6.6"/>
<ellipse cx="709.1" cy="259.7" rx="5.4" ry="5.0"/>
<ellipse cx="765.7" cy="474.2" rx="6.9" ry="6.4"/>
<ellipse cx="752.4" cy="519.5" rx="3.8" ry="3.5"/>
<ellipse cx="593.2" cy="172.6" rx="9.5" ry="8.8"/>
<ellipse cx="723.9" cy="476.8" rx="20.0" ry="18.5"/>
<ellipse cx="698.3" cy="259.3" rx="11.5" ry="10.6"/>
<ellipse cx="739.9" cy="355.5" rx="5.9" ry="5.4"/>
<ellipse cx="764.9" cy="403.8" rx="5.0" ry="4.7"/>
<ellipse cx="773.8" cy="402.6" rx="28.4" ry="26.2"/>
<ellipse cx="602.3" cy="180.2" rx="4.3" ry="3.9"/>
<ellipse cx="731.8" cy="275.2" rx="4.0" ry="3.7"/>
<ellipse cx="780.4" cy="408.0" rx="0.9" ry="0.8"/>
<ellipse cx="760.9" cy="533.3" rx="7.0" ry="6.5"/>
<ellipse cx="615.7" cy="161.5" rx="1.3" ry="1.2"/>
<ellipse cx="771.5" cy="520.1" rx="3.0" ry="2.8"/>
<ellipse cx="647.8" cy="189.5" rx="4.7" ry="4.3"/>
<ellipse cx="706.4" cy="325.8" rx="29.0" ry="26.8"/>
<ellipse cx="720.7" cy="281.0" rx="14.8" ry="13.6"/>
<ellipse cx="692.6" cy="286.4" rx="3.6" ry="3.3"/>
<ellipse cx="716.3" cy="248.0" rx="7.0" ry="6.5"/>
<ellipse cx="779.5" cy="443.7" rx="3.0" ry="2.8"/>
<ellipse cx="713.9" cy="405.2" rx="19.0" ry="17.5"/>
<ellipse cx="725.1" cy="264.6" rx="6.0" ry="5.5"/>
<ellipse cx="747.4" cy="302.2" rx="8.0" ry="7.4"/>
<ellipse cx="720.7" cy="281.0" rx="6.0" ry="5.6"/>
<ellipse cx="712.0" cy="285.6" rx="6.0" ry="5.6"/>
</g>
<text class="s" transform="translate(653.0,398.5) scale(1.159,1)" font-size="7.9">Austria</text>
<text class="s" transform="translate(641.7,438.0) scale(1.159,1)" font-size="7.9">Belgium</text>
<text class="s" transform="translate(611.3,419.3) scale(1.159,1)" font-size="7.8">Denmark</text>
<text class="s" transform="translate(551.3,385.9) scale(1.159,1)" font-size="7.8">Finland</text>
<text transform="translate(651.5,447.1) scale(1.140,1)" font-size="16.1">France</text>
<text transform="translate(638.4,422.3) scale(1.150,1)" font-size="18.0">Germany</text>
<text transform="translate(674.2,399.5) scale(1.100,1)" font-size="13.0">Italy</text>
<text class="s" transform="translate(632.4,432.7) scale(1.159,1)" font-size="9.8">Netherlands</text>
<text class="s" transform="translate(577.5,424.8) scale(1.159,1)" font-size="7.8">Norway</text>
<text class="s" transform="translate(574.1,410.8) scale(1.159,1)" font-size="7.9">Sweden</text>
<text class="s" transform="translate(659.0,420.1) scale(1.159,1)" font-size="7.9">Switzerland</text>
<text transform="translate(624.4,463.5) scale(1.100,1)" font-size="16.0">UK</text>
<text class="s" transform="translate(628.6,482.9) scale(1.159,1)" font-size="7.8">Ireland</text>
<text class="s" transform="translate(676.3,351.1) scale(1.159,1)" font-size="7.9">Greece</text>
<text class="s" transform="translate(693.0,491.2) scale(1.159,1)" font-size="7.8">Portugal</text>
<text transform="translate(694.5,475.7) scale(1.100,1)" font-size="13.5">Spain</text>
<text class="s" transform="translate(167.9,225.0) scale(1.159,1)" font-size="9.6">Australia</text>
<text class="s" transform="translate(113.2,425.7) scale(1.159,1)" font-size="7.8">New Zealand</text>
<text transform="translate(383.8,632.0) scale(1.170,1)" font-size="14.4">Canada</text>
<text transform="translate(363.7,746.3) scale(1.137,1)" font-size="60.6">USA</text>
<text class="s" transform="translate(672.0,362.7) scale(1.159,1)" font-size="7.7">Albania</text>
<text class="s" transform="translate(654.2,344.8) scale(1.159,1)" font-size="7.8">Bulgaria</text>
<text class="s" transform="translate(645.8,371.5) scale(1.159,1)" font-size="7.8">Hungary</text>
<text class="s" transform="translate(622.0,379.5) scale(1.159,1)" font-size="8.0">Poland</text>
<text class="s" transform="translate(641.5,350.3) scale(1.159,1)" font-size="7.8">Romania</text>
<text class="s" transform="translate(662.4,375.3) scale(1.159,1)" font-size="7.7">Bosnia</text>
<text class="s" transform="translate(660.6,387.2) scale(1.159,1)" font-size="7.7">Croatia</text>
<text class="s" transform="translate(665.0,355.3) scale(1.159,1)" font-size="7.7">Macedonia</text>
<text class="s" transform="translate(657.0,391.1) scale(1.159,1)" font-size="7.7">Slovenia</text>
<text class="s" transform="translate(657.6,362.8) scale(1.159,1)" font-size="7.8">Serbia and Montenegro</text>
<text class="s" transform="translate(638.8,392.8) scale(1.159,1)" font-size="7.8">Czech Republic</text>
<text class="s" transform="translate(638.8,376.0) scale(1.159,1)" font-size="7.8">Slovakia</text>
<text transform="translate(367.3,284.7) scale(1.100,1)" font-size="20.5">F. USSR</text>
<text class="s" transform="translate(539.6,716.1) scale(1.159,1)" font-size="10.1">Argentina</text>
<text transform="translate(616.7,740.1) scale(1.100,1)" font-size="17.0">Brazil</text>
<text class="s" transform="translate(508.4,741.3) scale(1.159,1)" font-size="7.8">Chile</text>
<text class="s" transform="translate(518.5,787.6) scale(1.159,1)" font-size="9.7">Colombia</text>
<text transform="translate(327.2,772.1) scale(1.100,1)" font-size="14.2">Mexico</text>
<text class="s" transform="translate(491.7,789.3) scale(1.159,1)" font-size="7.8">Peru</text>
<text class="s" transform="translate(580.0,697.8) scale(1.159,1)" font-size="7.7">Uruguay</text>
<text transform="translate(549.7,773.0) scale(1.100,1)" font-size="12.3">Venezuela</text>
<text class="s" transform="translate(555.2,758.1) scale(1.159,1)" font-size="7.7">Bolivia</text>
<text class="s" transform="translate(439.9,797.7) scale(1.159,1)" font-size="7.7">Costa Rica</text>
<text class="s" transform="translate(462.3,775.5) scale(1.159,1)" font-size="7.8">Cuba</text>
<text class="s" transform="translate(520.3,767.1) scale(1.159,1)" font-size="7.8">Dominican Republic</text>
<text class="s" transform="translate(483.3,796.4) scale(1.159,1)" font-size="7.8">Ecuador</text>
<text class="s" transform="translate(407.5,794.7) scale(1.159,1)" font-size="7.7">El Salvador</text>
<text class="s" transform="translate(398.9,792.2) scale(1.159,1)" font-size="7.8">Guatemala</text>
<text class="s" transform="translate(509.8,770.3) scale(1.159,1)" font-size="7.7">Haiti</text>
<text class="s" transform="translate(423.1,792.3) scale(1.159,1)" font-size="7.7">Honduras</text>
<text class="s" transform="translate(479.2,779.3) scale(1.159,1)" font-size="7.7">Jamaica</text>
<text class="s" transform="translate(433.0,794.6) scale(1.159,1)" font-size="7.7">Nicaragua</text>
<text class="s" transform="translate(466.2,795.3) scale(1.159,1)" font-size="7.7">Panama</text>
<text class="s" transform="translate(587.2,727.8) scale(1.159,1)" font-size="7.7">Paraguay</text>
<text class="s" transform="translate(545.5,759.6) scale(1.159,1)" font-size="7.8">Puerto Rico</text>
<text class="s" transform="translate(582.7,755.2) scale(1.159,1)" font-size="7.7">Trinidad and Tobago</text>
<text transform="translate(319.3,192.9) scale(1.100,1)" font-size="59.6">China</text>
<text transform="translate(482.0,137.7) scale(1.170,1)" font-size="25.7">India</text>
<text transform="translate(209.8,153.8) scale(1.100,1)" font-size="13.8">Indonesia</text>
<text transform="translate(171.9,267.4) scale(1.100,1)" font-size="23.3">Japan</text>
<text class="s" transform="translate(202.8,163.5) scale(1.159,1)" font-size="9.2">Philippines</text>
<text transform="translate(214.4,232.7) scale(1.100,1)" font-size="13.5">South Korea</text>
<text class="s" transform="translate(339.3,120.9) scale(1.180,1)" font-size="10.8">Thailand</text>
<text class="s" transform="translate(219.7,178.0) scale(1.159,1)" font-size="10.2">Taiwan</text>
<text class="s" transform="translate(400.5,132.4) scale(1.159,1)" font-size="7.9">Bangladesh</text>
<text class="s" transform="translate(351.1,130.7) scale(1.159,1)" font-size="7.8">Burma</text>
<text class="s" transform="translate(255.4,156.7) scale(1.159,1)" font-size="7.9">Hong Kong</text>
<text class="s" transform="translate(254.1,129.0) scale(1.159,1)" font-size="7.7">Malaysia</text>
<text class="s" transform="translate(435.8,144.8) scale(1.159,1)" font-size="7.7">Nepal</text>
<text class="s" transform="translate(513.9,168.0) scale(1.159,1)" font-size="9.6">Pakistan</text>
<text class="s" transform="translate(309.2,112.2) scale(1.159,1)" font-size="7.8">Singapore</text>
<text class="s" transform="translate(459.9,108.9) scale(1.159,1)" font-size="7.8">Sri Lanka</text>
<text class="s" transform="translate(536.2,186.3) scale(1.159,1)" font-size="7.7">Afghanistan</text>
<text class="s" transform="translate(304.0,122.6) scale(1.159,1)" font-size="7.7">Cambodia</text>
<text class="s" transform="translate(306.3,130.5) scale(1.159,1)" font-size="7.7">Laos</text>
<text class="s" transform="translate(331.7,217.6) scale(1.159,1)" font-size="7.7">Mongolia</text>
<text class="s" transform="translate(224.0,238.4) scale(1.159,1)" font-size="7.7">North Korea</text>
<text class="s" transform="translate(299.1,129.1) scale(1.159,1)" font-size="9.0">Vietnam</text>
<text class="s" transform="translate(619.1,209.5) scale(1.159,1)" font-size="7.7">Bahrain</text>
<text class="s" transform="translate(595.9,216.2) scale(1.159,1)" font-size="10.1">Iran</text>
<text class="s" transform="translate(631.4,248.7) scale(1.159,1)" font-size="7.7">Iraq</text>
<text class="s" transform="translate(668.7,282.6) scale(1.159,1)" font-size="7.8">Israel</text>
<text class="s" transform="translate(666.0,276.3) scale(1.159,1)" font-size="7.7">Jordan</text>
<text class="s" transform="translate(633.0,234.3) scale(1.159,1)" font-size="7.7">Kuwait</text>
<text class="s" transform="translate(658.3,282.5) scale(1.159,1)" font-size="7.7">Lebanon</text>
<text class="s" transform="translate(595.1,178.2) scale(1.159,1)" font-size="7.7">Oman</text>
<text class="s" transform="translate(616.8,206.0) scale(1.159,1)" font-size="7.7">Qatar</text>
<text class="s" transform="translate(645.8,228.2) scale(1.159,1)" font-size="7.7">Saudi Arabia</text>
<text class="s" transform="translate(647.6,276.2) scale(1.159,1)" font-size="7.8">Syria</text>
<text class="s" transform="translate(644.2,297.7) scale(1.159,1)" font-size="10.4">Turkey</text>
<text class="s" transform="translate(606.1,193.5) scale(1.159,1)" font-size="7.4">UAE</text>
<text class="s" transform="translate(647.9,201.1) scale(1.159,1)" font-size="7.8">Yemen</text>
<text class="s" transform="translate(738.0,437.2) scale(1.159,1)" font-size="7.8">Algeria</text>
<text class="s" transform="translate(754.9,344.5) scale(1.159,1)" font-size="7.7">Angola</text>
<text class="s" transform="translate(777.8,439.8) scale(1.159,1)" font-size="7.7">Benin</text>
<text class="s" transform="translate(724.7,320.9) scale(1.159,1)" font-size="7.7">Botswana</text>
<text class="s" transform="translate(773.3,465.4) scale(1.159,1)" font-size="7.7">Burkina Faso</text>
<text class="s" transform="translate(731.4,278.0) scale(1.159,1)" font-size="7.7">Burundi</text>
<text class="s" transform="translate(772.9,380.7) scale(1.159,1)" font-size="7.7">Cameroon</text>
<text class="s" transform="translate(736.7,590.9) scale(1.159,1)" font-size="7.7">Cape Verde</text>
<text class="s" transform="translate(755.2,328.4) scale(1.159,1)" font-size="7.7">Central African Republic</text>
<text class="s" transform="translate(750.1,342.9) scale(1.159,1)" font-size="7.7">Chad</text>
<text class="s" transform="translate(668.5,213.7) scale(1.159,1)" font-size="7.7">Comoro Islands</text>
<text class="s" transform="translate(770.2,362.5) scale(1.159,1)" font-size="7.7">Congo 'Brazzaville'</text>
<text class="s" transform="translate(778.1,483.8) scale(1.159,1)" font-size="7.7">Côte d'Ivoire</text>
<text class="s" transform="translate(674.8,218.5) scale(1.159,1)" font-size="7.7">Djibouti</text>
<text class="s" transform="translate(695.9,297.7) scale(1.159,1)" font-size="10.2">Egypt</text>
<text class="s" transform="translate(777.3,392.4) scale(1.159,1)" font-size="7.7">Equatorial Guinea</text>
<text class="s" transform="translate(775.2,381.9) scale(1.159,1)" font-size="7.7">Gabon</text>
<text class="s" transform="translate(757.3,550.9) scale(1.159,1)" font-size="7.7">Gambia</text>
<text class="s" transform="translate(779.3,465.6) scale(1.159,1)" font-size="7.7">Ghana</text>
<text class="s" transform="translate(770.6,513.3) scale(1.159,1)" font-size="7.7">Guinea</text>
<text class="s" transform="translate(762.2,542.4) scale(1.159,1)" font-size="7.7">Guinea Bissau</text>
<text class="s" transform="translate(702.1,237.1) scale(1.159,1)" font-size="7.8">Kenya</text>
<text class="s" transform="translate(693.3,307.4) scale(1.159,1)" font-size="7.7">Lesotho</text>
<text class="s" transform="translate(775.6,511.1) scale(1.159,1)" font-size="7.7">Liberia</text>
<text class="s" transform="translate(732.3,360.3) scale(1.159,1)" font-size="7.7">Libya</text>
<text class="s" transform="translate(645.8,211.9) scale(1.159,1)" font-size="7.7">Madagascar</text>
<text class="s" transform="translate(709.1,262.3) scale(1.159,1)" font-size="7.7">Malawi</text>
<text class="s" transform="translate(765.7,476.9) scale(1.159,1)" font-size="7.7">Mali</text>
<text class="s" transform="translate(752.4,522.1) scale(1.159,1)" font-size="7.7">Mauritania</text>
<text class="s" transform="translate(593.2,175.2) scale(1.159,1)" font-size="7.7">Mauritius</text>
<text class="s" transform="translate(723.9,479.4) scale(1.159,1)" font-size="7.8">Morocco</text>
<text class="s" transform="translate(698.3,262.0) scale(1.159,1)" font-size="7.7">Mozambique</text>
<text class="s" transform="translate(739.9,358.1) scale(1.159,1)" font-size="7.7">Namibia</text>
<text class="s" transform="translate(764.9,406.4) scale(1.159,1)" font-size="7.7">Niger</text>
<text class="s" transform="translate(773.8,405.3) scale(1.159,1)" font-size="7.9">Nigeria</text>
<text class="s" transform="translate(731.8,277.8) scale(1.159,1)" font-size="7.7">Rwanda</text>
<text class="s" transform="translate(780.4,410.6) scale(1.159,1)" font-size="7.7">São Tomé and Principe</text>
<text class="s" transform="translate(760.9,535.9) scale(1.159,1)" font-size="7.7">Senegal</text>
<text class="s" transform="translate(615.7,164.1) scale(1.159,1)" font-size="7.7">Seychelles</text>
<text class="s" transform="translate(771.5,522.7) scale(1.159,1)" font-size="7.7">Sierra Leone</text>
<text class="s" transform="translate(647.8,192.2) scale(1.159,1)" font-size="7.7">Somalia</text>
<text class="s" transform="translate(706.4,328.4) scale(1.159,1)" font-size="7.8">South Africa</text>
<text class="s" transform="translate(720.7,283.7) scale(1.159,1)" font-size="7.8">Sudan</text>
<text class="s" transform="translate(692.6,289.1) scale(1.159,1)" font-size="7.7">Swaziland</text>
<text class="s" transform="translate(716.3,250.6) scale(1.159,1)" font-size="7.7">Tanzania</text>
<text class="s" transform="translate(779.5,446.3) scale(1.159,1)" font-size="7.7">Togo</text>
<text class="s" transform="translate(713.9,407.9) scale(1.159,1)" font-size="7.8">Tunisia</text>
<text class="s" transform="translate(725.1,267.2) scale(1.159,1)" font-size="7.7">Uganda</text>
<text class="s" transform="translate(747.4,304.9) scale(1.159,1)" font-size="7.7">Zaire (Congo-Kinshasa)</text>
<text class="s" transform="translate(720.7,283.7) scale(1.159,1)" font-size="7.7">Zambia</text>
<text class="s" transform="translate(712.0,288.3) scale(1.159,1)" font-size="7.7">Zimbabwe</text>
<g stroke="#f0241a" stroke-width="2.1" fill="none"><line x1="422.1" y1="392.2" x2="440.1" y2="392.2"/><line x1="425.7" y1="387.1" x2="436.5" y2="397.3"/><line x1="431.1" y1="383.6" x2="431.1" y2="400.8"/><line x1="436.5" y1="387.1" x2="425.7" y2="397.3"/></g>
</g></svg></div></body></html>
